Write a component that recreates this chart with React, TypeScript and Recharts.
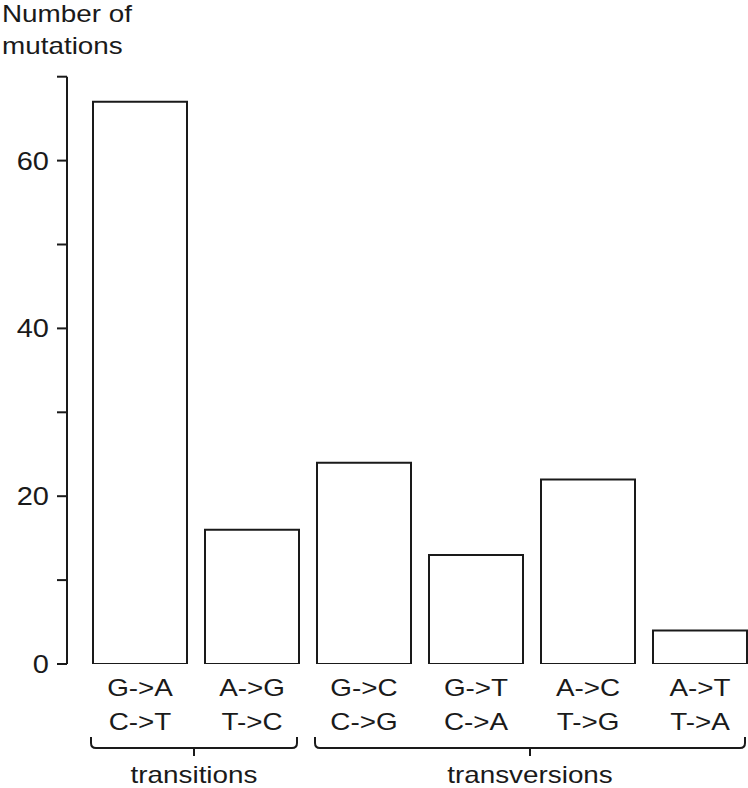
import React from 'react';
import { BarChart, Bar, XAxis, YAxis } from 'recharts';

const topLabels = ['G->A', 'A->G', 'G->C', 'G->T', 'A->C', 'A->T'];
const bottomLabels = ['C->T', 'T->C', 'C->G', 'C->A', 'T->G', 'T->A'];
const counts = [67, 16, 24, 13, 22, 4];
const groupNames = ['transitions', 'transversions'];
const groupStart = [0, 2];
const groupEnd = [1, 5];
const yTicks = [0, 10, 20, 30, 40, 50, 60, 70];
const yLabeled = [0, 20, 40, 60];

const data = topLabels.map((t, i) => ({ cat: t, bottom: bottomLabels[i], count: counts[i] }));

const INK = '#1a1a1a';
const FONT = '"Liberation Sans", Arial, Helvetica, sans-serif';
const SX = 1.16;

const XTick = (props: any) => {
  const { x, y, payload, index } = props;
  const i = payload?.index ?? index;
  const off = payload?.offset ?? 56;
  const band = off * 2;
  const items: any[] = [];
  items.push(
    <text key="t1" transform={`translate(${x},${y + 32}) scale(${SX},1)`} textAnchor="middle" fontSize={24} fontFamily={FONT} fill={INK}>
      {topLabels[i]}
    </text>
  );
  items.push(
    <text key="t2" transform={`translate(${x},${y + 66}) scale(${SX},1)`} textAnchor="middle" fontSize={24} fontFamily={FONT} fill={INK}>
      {bottomLabels[i]}
    </text>
  );
  const g = groupStart.indexOf(i);
  if (g >= 0) {
    const lastX = x + (groupEnd[g] - groupStart[g]) * band;
    const L = x - off + 7;
    const R = lastX + off - 11;
    const C = (L + R) / 2;
    const yb = y + 84;
    const d = `M${L},${yb - 11} V${yb - 5} Q${L},${yb} ${L + 5},${yb} H${R - 5} Q${R},${yb} ${R},${yb - 5} V${yb - 11} M${C},${yb} V${yb + 8}`;
    items.push(<path key="b" d={d} fill="none" stroke={INK} strokeWidth={2} />);
    items.push(
      <text key="g" transform={`translate(${C},${y + 119}) scale(${SX},1)`} textAnchor="middle" fontSize={24} fontFamily={FONT} fill={INK}>
        {groupNames[g]}
      </text>
    );
  }
  return <g>{items}</g>;
};

const YTick = (props: any) => {
  const { x, y, payload } = props;
  if (!yLabeled.includes(payload.value)) return <g />;
  return (
    <text transform={`translate(${x},${y + 9}) scale(${SX},1)`} textAnchor="end" fontSize={25} fontFamily={FONT} fill={INK}>
      {payload.value}
    </text>
  );
};

export default function App() {
  return (
    <div style={{ position: 'absolute', left: 0, top: 0, width: 748, height: 788, overflow: 'hidden', background: '#fff' }}>
      <div style={{ position: 'absolute', left: 2, top: 0, fontFamily: FONT, fontSize: 24, color: INK, lineHeight: '32px', transform: `scaleX(${SX})`, transformOrigin: 'left top', whiteSpace: 'nowrap' }}>
        <div style={{ position: 'relative', top: -2 }}>Number of</div>
        <div style={{ position: 'relative', top: -2 }}>mutations</div>
      </div>
      <BarChart
        width={756}
        height={788}
        data={data}
        margin={{ top: 76.7, right: 0, bottom: 0, left: 0 }}
        style={{ position: 'absolute', left: 0, top: 0 }}
      >
        <XAxis
          dataKey="cat"
          height={124}
          axisLine={false}
          tickLine={false}
          tickSize={0}
          tickMargin={0}
          padding={{ left: 17, right: 0 }}
          interval={0}
          tick={<XTick />}
        />
        <YAxis
          width={67}
          domain={[0, 70]}
          ticks={yTicks}
          interval={0}
          tickSize={10}
          tickMargin={8}
          axisLine={{ stroke: INK, strokeWidth: 2 }}
          tickLine={{ stroke: INK, strokeWidth: 2 }}
          tick={<YTick />}
          allowDataOverflow
        />
        <Bar dataKey="count" barSize={94} fill="#ffffff" stroke={INK} strokeWidth={2} isAnimationActive={false} />
      </BarChart>
    </div>
  );
}
